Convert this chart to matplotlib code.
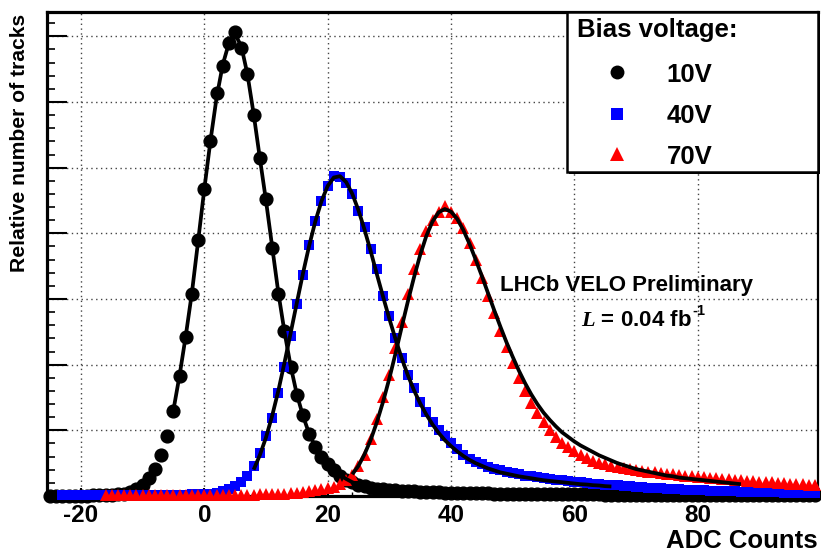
import numpy as np
import matplotlib
matplotlib.use("Agg")
import matplotlib.pyplot as plt
from matplotlib.patches import Rectangle
from matplotlib.lines import Line2D

plt.rcParams['font.family'] = ['Liberation Sans', 'DejaVu Sans']
plt.rcParams['font.weight'] = 'bold'
plt.rcParams['axes.unicode_minus'] = False
plt.rcParams['mathtext.fontset'] = 'custom'
plt.rcParams['mathtext.it'] = 'Liberation Serif:italic'
plt.rcParams['mathtext.rm'] = 'Liberation Sans:bold'
plt.rcParams['mathtext.bf'] = 'Liberation Sans:bold'

# ---------------- data ----------------
x_10v = np.arange(-25, 100)
y_10v = [0.005, 0.005, 0.005, 0.005, 0.005, 0.006, 0.007, 0.008, 0.010, 0.012,
         0.016, 0.024, 0.038, 0.065, 0.11, 0.17, 0.27, 0.41, 0.62, 0.92,
         1.29, 1.83, 2.42, 3.08, 3.90,
         4.68, 5.40, 6.14, 6.55, 6.90, 7.06, 6.82, 6.43, 5.80, 5.14,
         4.53, 3.77, 3.07, 2.51, 1.97, 1.54, 1.24, 0.95, 0.75, 0.60,
         0.49, 0.39, 0.31, 0.25, 0.21, 0.17, 0.145, 0.125, 0.11, 0.10,
         0.09, 0.085, 0.08, 0.075, 0.07, 0.066, 0.062, 0.058, 0.055, 0.052, 0.05,
         0.048, 0.046, 0.044, 0.042, 0.040, 0.039, 0.038, 0.036, 0.035, 0.034,
         0.033, 0.032, 0.031, 0.030, 0.029, 0.028, 0.027, 0.027, 0.026, 0.025,
         0.025, 0.024, 0.023, 0.023, 0.022, 0.022, 0.021, 0.021, 0.020, 0.020,
         0.019, 0.019, 0.018, 0.018, 0.018, 0.017, 0.017, 0.016, 0.016, 0.016,
         0.015, 0.015, 0.015, 0.014, 0.014, 0.014, 0.013, 0.013, 0.013, 0.013,
         0.012, 0.012, 0.012, 0.012, 0.011, 0.011, 0.011, 0.011, 0.010]

x_40v = np.arange(-23, 100)
y_40v = [0.008, 0.008, 0.008, 0.009, 0.009, 0.009, 0.010, 0.010, 0.010, 0.011,
         0.011, 0.012, 0.012, 0.013, 0.013,
         0.014, 0.015, 0.016, 0.017, 0.019, 0.021, 0.023, 0.026,
         0.03, 0.037, 0.05, 0.07, 0.10, 0.15, 0.22, 0.31, 0.45, 0.65,
         0.91, 1.19, 1.57, 1.97, 2.43, 2.92, 3.37, 3.82, 4.19, 4.49,
         4.72, 4.88, 4.86, 4.77, 4.60, 4.34, 4.09, 3.76, 3.45, 3.04,
         2.74, 2.41, 2.10, 1.84, 1.64, 1.43, 1.28, 1.13, 1.01, 0.91, 0.80,
         0.71, 0.63, 0.57, 0.52, 0.48, 0.44, 0.41, 0.39, 0.37, 0.35,
         0.33, 0.31, 0.30, 0.29, 0.27, 0.26, 0.25, 0.24, 0.23, 0.22,
         0.21, 0.20, 0.19, 0.18, 0.175, 0.165, 0.16, 0.15, 0.145, 0.14,
         0.13, 0.125, 0.12, 0.115, 0.11, 0.105, 0.10, 0.097, 0.093, 0.09,
         0.086, 0.082, 0.079, 0.076, 0.073, 0.07, 0.067, 0.065, 0.062, 0.06,
         0.058, 0.056, 0.054, 0.052, 0.05, 0.048, 0.047, 0.046, 0.045]

x_70v = np.arange(-16, 100)
y_70v = [0.010, 0.010, 0.010, 0.010, 0.010, 0.010, 0.010, 0.010, 0.010, 0.010,
         0.010, 0.010,
         0.011, 0.011, 0.012, 0.012, 0.013, 0.013, 0.014, 0.015, 0.016, 0.017,
         0.018, 0.019, 0.021, 0.023, 0.025, 0.028, 0.032, 0.037, 0.043,
         0.05, 0.06, 0.07, 0.085, 0.10, 0.12, 0.14, 0.18, 0.24, 0.32,
         0.45, 0.63, 0.87, 1.18, 1.50, 1.85, 2.25, 2.65, 3.07, 3.46,
         3.76, 4.04, 4.20, 4.33, 4.42, 4.33, 4.24, 4.08, 3.86, 3.60,
         3.32, 3.04, 2.78, 2.52, 2.27, 2.03, 1.80, 1.60, 1.42, 1.26,
         1.12, 1.00, 0.90, 0.81, 0.74, 0.68, 0.62, 0.58, 0.54, 0.51,
         0.48, 0.46, 0.44, 0.42, 0.41, 0.40, 0.38, 0.37, 0.36, 0.35,
         0.34, 0.33, 0.32, 0.31, 0.30, 0.29, 0.285, 0.28, 0.27, 0.26,
         0.255, 0.25, 0.24, 0.235, 0.23, 0.22, 0.215, 0.21, 0.20, 0.195,
         0.19, 0.185, 0.18, 0.175, 0.17]

# fitted curves (Landau (x) Gauss), sampled at the bin centres
fit_x_10v = np.arange(-5, 31)
fit_y_10v = [1.31, 1.84, 2.44, 3.10, 3.88, 4.67, 5.41, 6.07, 6.57, 6.90,
             7.03, 6.85, 6.42, 5.82, 5.15, 4.50, 3.80, 3.10, 2.50, 1.98,
             1.55, 1.22, 0.95, 0.75, 0.60, 0.48, 0.39, 0.32, 0.26, 0.21,
             0.175, 0.145, 0.125, 0.11, 0.10, 0.09]

fit_x_40v = np.arange(8, 67)
fit_y_40v = [0.40, 0.62, 0.89, 1.22, 1.60, 2.03, 2.48, 2.94, 3.39, 3.81,
             4.18, 4.49, 4.72, 4.85, 4.87, 4.78, 4.60, 4.35, 4.05, 3.72,
             3.37, 3.03, 2.70, 2.39, 2.10, 1.84, 1.61, 1.41, 1.24, 1.09,
             0.96, 0.85, 0.76, 0.68, 0.61, 0.55, 0.50, 0.46, 0.42, 0.39,
             0.36, 0.34, 0.32, 0.30, 0.285, 0.27, 0.255, 0.24, 0.23, 0.22,
             0.21, 0.20, 0.19, 0.18, 0.175, 0.165, 0.16, 0.15, 0.145]

fit_x_70v = np.arange(24, 88)
fit_y_70v = [0.33, 0.46, 0.64, 0.86, 1.13, 1.44, 1.79, 2.17, 2.57, 2.96,
             3.33, 3.67, 3.96, 4.18, 4.32, 4.37, 4.33, 4.22, 4.05, 3.84,
             3.60, 3.35, 3.09, 2.83, 2.58, 2.34, 2.12, 1.91, 1.72, 1.55,
             1.40, 1.27, 1.16, 1.06, 0.97, 0.90, 0.83, 0.77, 0.72, 0.67,
             0.62, 0.58, 0.54, 0.50, 0.47, 0.44, 0.41, 0.39, 0.37, 0.35,
             0.33, 0.31, 0.30, 0.28, 0.27, 0.26, 0.25, 0.24, 0.23, 0.22,
             0.21, 0.20, 0.19, 0.18]

series_labels = ["10V", "40V", "70V"]
x_ticks = [-20, 0, 20, 40, 60, 80]

# ---------------- figure ----------------
W, H = 821, 555
fig = plt.figure(figsize=(W / 100, H / 100), dpi=100)

def fx(px):
    return px / W

def fy(py):
    return 1 - py / H

ax = fig.add_axes([fx(47), fy(496), (818 - 47) / W, (496 - 12) / H])
ax.set_xlim(-25.5, 99.5)
ax.set_ylim(0, 7.37)

ax.grid(True, which='major', color='#444444', linestyle=(0, (1, 2.5)), linewidth=1.0)
ax.set_axisbelow(True)

ax.plot(x_10v, y_10v, linestyle='none', marker='o', markersize=9.2,
        color='black', clip_on=False, zorder=3)
ax.plot(x_40v, y_40v, linestyle='none', marker='s', markersize=7.6,
        color='#0000ff', markeredgewidth=0, clip_on=False, zorder=4)
ax.plot(x_70v, y_70v, linestyle='none', marker='^', markersize=9.0,
        color='#ff0000', markeredgewidth=0, clip_on=False, zorder=5)

for fxv, fyv in [(fit_x_10v, fit_y_10v), (fit_x_40v, fit_y_40v), (fit_x_70v, fit_y_70v)]:
    ax.plot(fxv, fyv, color='black', linewidth=2.7, zorder=6,
            solid_capstyle='butt', solid_joinstyle='round')

ax.set_xticks(x_ticks)
ax.set_xticks(np.arange(-24, 100, 4), minor=True)
ax.set_yticks(np.arange(1, 8))
ax.set_yticks(np.arange(0.2, 7.37, 0.2), minor=True)
ax.tick_params(axis='x', which='major', direction='in', length=5.8, width=1.5,
               labelsize=17.5, pad=6)
ax.tick_params(axis='x', which='minor', direction='in', length=3, width=1.0)
ax.tick_params(axis='y', which='major', direction='in', length=14.5, width=1.5,
               labelleft=False)
ax.tick_params(axis='y', which='minor', direction='in', length=5.8, width=1.2)
for lab in ax.get_xticklabels():
    lab.set_fontweight('bold')

for side in ['left', 'top', 'bottom']:
    ax.spines[side].set_linewidth(2.3)
ax.spines['right'].set_linewidth(1.6)

# axis titles
fig.text(fx(20), fy(14), "Relative number of tracks", rotation=90,
         ha='center', va='top', fontsize=15.2, fontweight='bold')
fig.text(fx(818), fy(541), "ADC Counts", ha='right', va='center',
         fontsize=18.5, fontweight='bold')

# annotations
fig.text(fx(500), fy(291), "LHCb VELO Preliminary", ha='left', va='baseline',
         fontsize=16, fontweight='bold')
lum = fig.text(fx(581), fy(326), r"$\mathit{L}$ = 0.04 fb", ha='left',
               va='baseline', fontsize=16, fontweight='bold')
fig.canvas.draw()
bb = lum.get_window_extent(renderer=fig.canvas.get_renderer())
fig.text(bb.x1 / W + 1 / W, fy(315), "-1", ha='left', va='baseline',
         fontsize=10.5, fontweight='bold')

# legend box (drawn on the figure)
shadow = Rectangle((fx(569), fy(174)), (818 - 567) / W, (172 - 12) / H,
                   transform=fig.transFigure, facecolor='black', edgecolor='none',
                   zorder=8)
box = Rectangle((fx(567), fy(172)), (818 - 567) / W, (172 - 12) / H,
                transform=fig.transFigure, facecolor='white', edgecolor='black',
                linewidth=1.8, zorder=9)
fig.add_artist(shadow)
fig.add_artist(box)
fig.text(fx(577), fy(36.5), "Bias voltage:", ha='left', va='baseline',
         fontsize=18.5, fontweight='bold', zorder=10)
leg_markers = [('o', 'black', 10), ('s', '#0000ff', 8), ('^', '#ff0000', 10)]
leg_rows = [72, 113.5, 154]
for (m, c, ms), row, lab in zip(leg_markers, leg_rows, series_labels):
    fig.add_artist(Line2D([fx(617)], [fy(row)], transform=fig.transFigure,
                          marker=m, color=c, markersize=ms, markeredgewidth=0,
                          linestyle='none', zorder=10))
    fig.text(fx(666.5), fy(row + 9.5), lab, ha='left', va='baseline',
             fontsize=18.5, fontweight='bold', zorder=10)

fig.savefig("out.png", dpi=100)
